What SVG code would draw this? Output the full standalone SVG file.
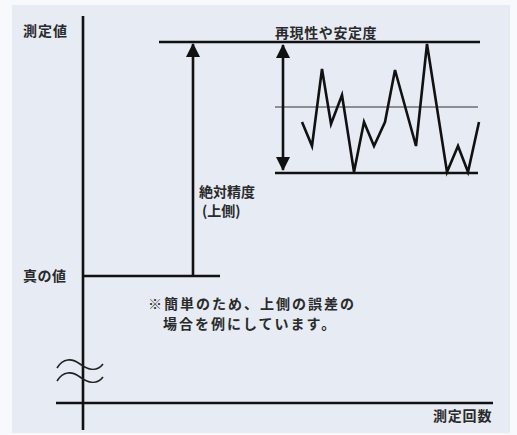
<svg xmlns="http://www.w3.org/2000/svg" width="517" height="435" viewBox="0 0 517 435">
<defs>
<style>
.t{font-family:"Noto Sans CJK JP","Noto Sans CJK SC",sans-serif;font-weight:bold;fill:#2a2a2a;font-size:14px}
.ln{stroke:#111;stroke-width:2.6;fill:none}
.thin{stroke:#333;stroke-width:1;fill:none}
.wave{stroke:#222;stroke-width:1.6;fill:none}
</style>
<marker id="ah" viewBox="0 0 14 14" refX="13" refY="7" markerWidth="14" markerHeight="14" markerUnits="userSpaceOnUse" orient="auto-start-reverse">
<path d="M0,0 L14,7 L0,14 Z" fill="#111"/>
</marker>
</defs>
<rect x="0" y="0" width="517" height="435" fill="#f7f9fc"/>
<rect x="12" y="5" width="498" height="428" fill="#e6ebf4"/>
<g id="axes">
<line class="ln" x1="83" y1="16" x2="83" y2="430"/>
<line class="ln" x1="56" y1="403" x2="493" y2="403"/>
<path class="wave" d="M57,368 C63,358 72,358 80,364 S97,372 103,364"/>
<path class="wave" d="M57,381 C63,371 72,371 80,377 S97,385 103,377"/>
</g>
<g id="lines">
<line class="ln" x1="159" y1="42" x2="480" y2="42"/>
<line class="ln" x1="83" y1="276" x2="220" y2="276"/>
<line class="thin" x1="275" y1="107" x2="478" y2="107"/>
<line class="ln" stroke-width="2" x1="275" y1="173" x2="478" y2="173"/>
</g>
<g id="connectors">
<line class="ln" x1="193" y1="276" x2="193" y2="44" marker-end="url(#ah)"/>
<line class="ln" x1="283" y1="45" x2="283" y2="170" marker-start="url(#ah)" marker-end="url(#ah)"/>
</g>
<g id="zigzag">
<polyline class="ln" stroke-width="3" stroke-linejoin="miter" points="302,122 312,146 322,69 331,124 342,95 354,172 364,122 374,146 385,122 395,70 416,146 427,44 447,172 458,146 468,172 479,122"/>
</g>
<g id="labels">
<text class="t" x="23" y="36" letter-spacing="1">測定値</text>
<text class="t" x="23" y="281" letter-spacing="0.5">真の値</text>
<text class="t" x="275" y="38" font-size="15" letter-spacing="0.6">再現性や安定度</text>
<text class="t" font-size="12.5"><tspan x="199" y="197">絶対精度</tspan><tspan x="202" y="216">(上側)</tspan></text>
<text class="t" font-size="13.5" letter-spacing="2"><tspan x="148" y="309">※簡単のため、上側の誤差の</tspan><tspan x="163" y="329">場合を例にしています。</tspan></text>
<text class="t" x="433" y="421" letter-spacing="0.8">測定回数</text>
</g>
</svg>
